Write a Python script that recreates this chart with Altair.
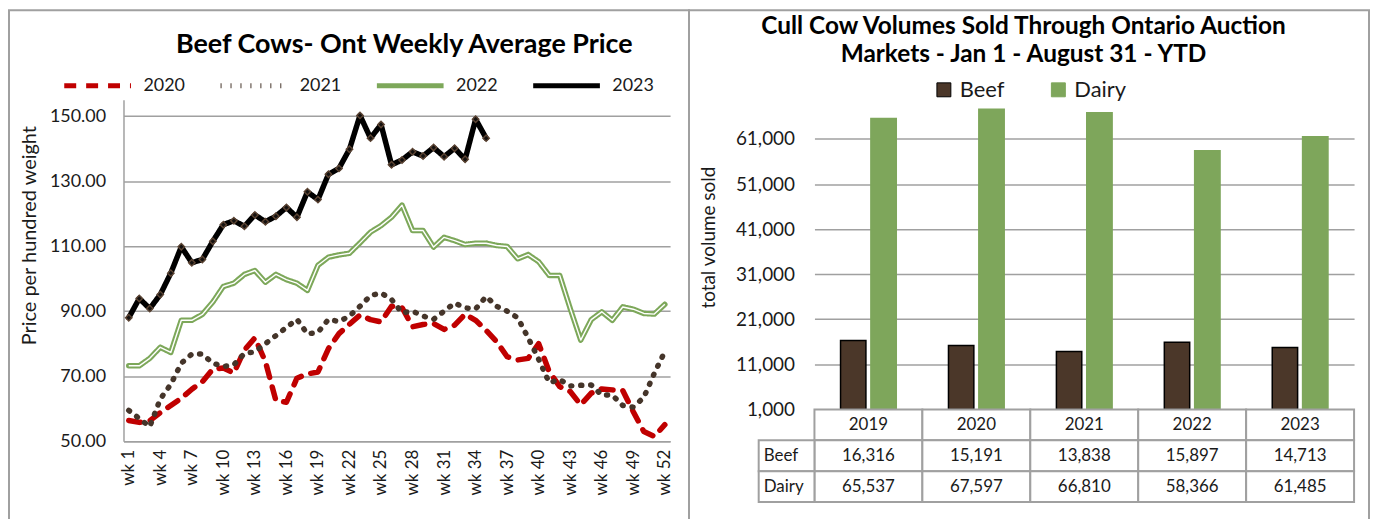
import altair as alt
import pandas as pd

# ---------------- data ----------------
weeks = [f"wk {i}" for i in range(1, 53)]
week_ticks = weeks[::3]
series_names = ["2020", "2021", "2022", "2023"]

price_2020 = [56.4, 55.8, 56.3, 58.8, 61.0, 63.2, 66.0, 68.3, 72.2, 72.5,
              71.0, 78.0, 81.8, 74.5, 62.5, 62.0, 69.4, 70.7, 71.3, 78.5,
              83.1, 86.0, 88.8, 87.4, 86.7, 91.5, 91.1, 85.2, 85.9, 86.2,
              84.4, 85.7, 89.1, 87.2, 84.1, 80.6, 76.0, 75.0, 75.5, 80.0,
              71.4, 66.8, 65.3, 61.2, 64.8, 66.1, 65.8, 65.6, 59.1, 53.0,
              51.5, 55.1]
price_2021 = [59.5, 57.0, 54.5, 63.0, 67.5, 74.0, 76.8, 76.8, 74.0, 73.0,
              73.5, 77.0, 77.5, 80.0, 82.5, 85.0, 87.5, 83.0, 83.5, 87.5,
              86.8, 88.5, 91.5, 94.8, 95.6, 93.6, 89.5, 90.0, 88.5, 87.5,
              90.0, 92.5, 91.0, 90.7, 94.5, 91.5, 90.0, 88.0, 81.8, 75.2,
              68.0, 69.0, 67.0, 67.2, 67.3, 64.2, 64.2, 61.0, 60.5, 63.5,
              70.9, 77.6]
price_2022 = [73.2, 73.2, 75.5, 78.9, 77.3, 87.2, 87.2, 89.0, 92.8, 97.6,
              98.6, 101.3, 102.5, 98.9, 101.3, 99.7, 98.6, 96.4, 104.1, 106.6,
              107.3, 107.8, 111.0, 114.3, 116.3, 118.9, 122.6, 114.8, 114.8, 109.7,
              112.7, 111.7, 110.5, 110.9, 110.9, 110.2, 109.9, 106.1, 107.4, 105.2,
              101.0, 101.0, 90.8, 81.1, 87.4, 89.8, 87.2, 91.3, 90.6, 89.3,
              89.1, 92.1]
price_2023 = [88.0, 93.9, 90.8, 95.1, 101.7, 109.8, 104.9, 105.9, 111.5, 116.6,
              117.8, 116.1, 119.6, 117.5, 119.2, 121.9, 118.9, 126.7, 124.3, 132.1,
              133.9, 139.8, 150.2, 143.2, 147.4, 135.0, 136.5, 139.0, 137.7, 140.3,
              137.5, 140.1, 136.7, 149.0, 143.2]
price_ticks = [50, 70, 90, 110, 130, 150]

left_title = "Beef Cows- Ont Weekly Average Price"
left_y_title = "Price per hundred weight"

years = ["2019", "2020", "2021", "2022", "2023"]
cow_types = ["Beef", "Dairy"]
beef_vol = [16316, 15191, 13838, 15897, 14713]
dairy_vol = [65537, 67597, 66810, 58366, 61485]
vol_ticks = [1000, 11000, 21000, 31000, 41000, 51000, 61000]
right_title = "Cull Cow Volumes Sold Through Ontario Auction\nMarkets - Jan 1 - August 31 - YTD"
right_y_title = "total volume sold"
table_rows = ["Year", "Beef", "Dairy"]

# ---------------- styles ----------------
FONT = "Lato"
GRID = "#A0A0A0"
RED = "#C00000"
BROWN = "#45352A"
GREEN = "#7DA85A"
BLACK = "#000000"
BEEF = "#4B3729"
DAIRY = "#7EA65B"
TXT = "#1a1a1a"

LW, LH = 549, 343
RW, RH = 542, 311
TH = 93

# ---------------- tables ----------------
rows = []
for name, vals in zip(series_names, [price_2020, price_2021, price_2022, price_2023]):
    for w, v in zip(weeks, vals):
        rows.append({"series": name, "week": w, "price": v})
price_df = pd.DataFrame(rows)

vol_df = pd.DataFrame({
    "year": years * 2,
    "type": ["Beef"] * len(years) + ["Dairy"] * len(years),
    "volume": beef_vol + dairy_vol,
})

cell_rows = []
for yr, b, d in zip(years, beef_vol, dairy_vol):
    cell_rows.append({"row": "Year", "year": yr, "label": yr})
    cell_rows.append({"row": "Beef", "year": yr, "label": f"{b:,}"})
    cell_rows.append({"row": "Dairy", "year": yr, "label": f"{d:,}"})
cells_df = pd.DataFrame(cell_rows)
rowlab_df = pd.DataFrame({"row": ["Beef", "Dairy"]})

one = pd.DataFrame({"k": [0]})

# ---------------- left chart ----------------
x_week = alt.X("week:N", sort=weeks, scale=alt.Scale(type="point", padding=0.5),
               axis=alt.Axis(values=week_ticks, labelAngle=270, labelFontSize=17,
                             labelFont=FONT, labelColor=TXT, ticks=False, grid=False,
                             domainColor=GRID, domainWidth=1.5, labelPadding=8,
                             title=None))
y_price = alt.Y("price:Q", scale=alt.Scale(domain=[50, 155], nice=False, zero=False),
                axis=alt.Axis(values=price_ticks, format=".2f", labelFontSize=18,
                              labelFont=FONT, labelColor=TXT, grid=True, gridColor=GRID,
                              gridWidth=1.5, domain=True, domainColor=GRID, domainWidth=1.5,
                              ticks=False, labelPadding=18, title=left_y_title,
                              titleFont=FONT, titleFontSize=20, titleFontWeight="normal",
                              titleColor=TXT, titleX=-94, titleY=136, titleAngle=270,
                              titleBaseline="middle", titleAlign="center"))

# legends end up in the top-level group, whose origin is the left plot's corner
leg_left = alt.Legend(orient="none", legendX=-62, legendY=-50, direction="horizontal",
                      title=None, symbolType="stroke", symbolSize=4489,
                      symbolStrokeWidth=5, labelFontSize=18, labelFont=FONT,
                      labelColor=TXT, labelOffset=10, columnPadding=25, padding=0)

lines = alt.Chart(price_df).mark_line(strokeCap="round", strokeJoin="round", strokeWidth=5.5).encode(
    x=x_week, y=y_price,
    color=alt.Color("series:N", scale=alt.Scale(domain=series_names,
                                                 range=[RED, BROWN, GREEN, BLACK]),
                    legend=leg_left),
    strokeDash=alt.StrokeDash("series:N", scale=alt.Scale(domain=series_names,
                                                          range=[[12, 10], [1, 9], [1, 0], [1, 0]]),
                              legend=leg_left),
)

inner22 = alt.Chart(price_df).transform_filter(alt.datum.series == "2022").mark_line(
    color="white", strokeWidth=1.4, strokeJoin="round").encode(x=x_week, y=y_price)

marks23 = alt.Chart(price_df).transform_filter(alt.datum.series == "2023").mark_point(
    shape="diamond", filled=True, fill="#151210", stroke="#5C4433", strokeWidth=1.4,
    size=42, opacity=1).encode(x=x_week, y=y_price)

left_frame = alt.Chart(one).mark_rect(fillOpacity=0, stroke=GRID, strokeWidth=2).encode(
    x=alt.value(-115), x2=alt.value(568), y=alt.value(-90), y2=alt.value(LH + 100))

left_title_mark = alt.Chart(pd.DataFrame({"t": [left_title]})).mark_text(
    font=FONT, fontSize=27, fontWeight="bold", align="center", baseline="alphabetic",
    color=BLACK).encode(text="t:N", x=alt.value(282), y=alt.value(-47))

left = alt.layer(left_frame, lines, inner22, marks23, left_title_mark).properties(
    width=LW, height=LH)

# ---------------- right chart ----------------
leg_right = alt.Legend(orient="none", legendX=813, legendY=-21, direction="horizontal",
                       title=None, symbolType="square", symbolSize=196,
                       symbolStrokeWidth=1, labelFontSize=22, labelFont=FONT,
                       labelColor=TXT, labelOffset=5, columnPadding=43, padding=0)

bars = alt.Chart(vol_df).mark_bar(strokeWidth=1.5).encode(
    x=alt.X("year:N", sort=years, scale=alt.Scale(paddingInner=0, paddingOuter=0), axis=None),
    xOffset=alt.XOffset("type:N", sort=cow_types,
                        scale=alt.Scale(paddingInner=0.164, paddingOuter=0.86)),
    y=alt.Y("volume:Q", scale=alt.Scale(domain=[1000, 69700], nice=False, zero=False),
            axis=alt.Axis(values=vol_ticks, labelExpr="format(datum.value, ',')",
                          labelFontSize=19, labelFont=FONT,
                          labelColor=TXT, grid=True, gridColor=GRID, gridWidth=1.5,
                          domain=False, ticks=False, labelPadding=20, title=right_y_title,
                          titleFont=FONT, titleFontSize=19, titleFontWeight="normal",
                          titleColor=TXT, titleX=-106, titleY=138, titleAngle=270,
                          titleBaseline="middle", titleAlign="center")),
    y2=alt.datum(1000),
    fill=alt.Fill("type:N", scale=alt.Scale(domain=cow_types, range=[BEEF, DAIRY]),
                  legend=leg_right),
    stroke=alt.Stroke("type:N", scale=alt.Scale(domain=cow_types, range=["#000000", DAIRY]),
                      legend=leg_right),
)

right_frame = alt.Chart(one).mark_rect(fillOpacity=0, stroke=GRID, strokeWidth=2).encode(
    x=alt.value(-126), x2=alt.value(557), y=alt.value(-90), y2=alt.value(RH + TH + 40))

right_title_mark = alt.Chart(pd.DataFrame({"t": [right_title]})).mark_text(
    font=FONT, fontSize=24.5, fontWeight="bold", align="center", baseline="alphabetic",
    lineBreak="\n", lineHeight=28, color=BLACK).encode(
    text="t:N", x=alt.value(210), y=alt.value(-66))

bars_layer = alt.layer(right_frame, bars, right_title_mark).properties(width=RW, height=RH)

tx = alt.X("year:N", sort=years, scale=alt.Scale(paddingInner=0, paddingOuter=0), axis=None)
ty = alt.Y("row:N", sort=table_rows, scale=alt.Scale(paddingInner=0, paddingOuter=0), axis=None)

cell_rect = alt.Chart(cells_df).mark_rect(fill="white", stroke=GRID, strokeWidth=2).encode(
    x=tx, y=ty)
cell_text = alt.Chart(cells_df).mark_text(font=FONT, fontSize=17, color=TXT).encode(
    x=tx, y=ty, text="label:N")
row_rect = alt.Chart(rowlab_df).mark_rect(fill="white", stroke=GRID, strokeWidth=2).encode(
    x=alt.value(-56), x2=alt.value(0), y=ty)
row_text = alt.Chart(rowlab_df).mark_text(font=FONT, fontSize=17, color=TXT, align="left").encode(
    x=alt.value(-51), y=ty, text="row:N")

table = alt.layer(cell_rect, row_rect, cell_text, row_text).properties(width=RW, height=TH)

right = alt.vconcat(bars_layer, table, spacing=0, bounds="flush")

chart = alt.hconcat(left, right, spacing=145, bounds="flush").properties(padding=0)
chart = chart.configure(font=FONT, padding=0).configure_view(strokeWidth=0)

chart.save("out.html", embed_options={"renderer": "svg", "actions": False})
